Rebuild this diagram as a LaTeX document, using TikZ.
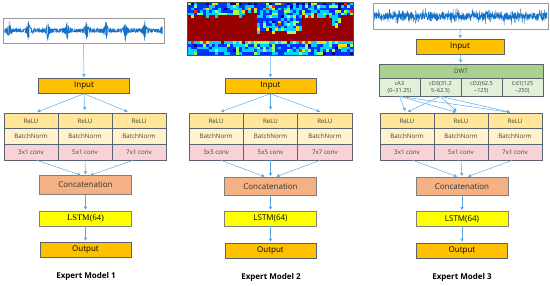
\documentclass[tikz,border=0pt]{standalone}
\usepackage{fontspec}
\setmainfont{Open Sans}
\newfontfamily\timesface{Liberation Serif}
\usetikzlibrary{arrows.meta}

\definecolor{inputorange}{RGB}{255,192,0}
\definecolor{reluyellow}{RGB}{255,230,153}
\definecolor{normcream}{RGB}{255,242,204}
\definecolor{convpink}{RGB}{248,210,214}
\definecolor{concsalmon}{RGB}{244,177,131}
\definecolor{lstmyellow}{RGB}{255,255,0}
\definecolor{dwtgreen}{RGB}{169,209,142}
\definecolor{bandgreen}{RGB}{226,240,217}
\definecolor{edgegray}{RGB}{89,100,115}
\definecolor{arrowblue}{RGB}{91,170,230}
\definecolor{waveblue}{RGB}{20,115,200}
\definecolor{jet0}{RGB}{0,0,150}
\definecolor{jet1}{RGB}{0,50,255}
\definecolor{jet2}{RGB}{0,210,255}
\definecolor{jet3}{RGB}{150,255,100}
\definecolor{jet4}{RGB}{255,220,0}
\definecolor{jet5}{RGB}{240,40,0}
\definecolor{jet6}{RGB}{150,0,0}

\tikzset{
  block/.style={draw=edgegray, line width=0.6pt, inner sep=0pt, minimum height=15pt, font=\fontsize{8}{9}\selectfont},
  iobox/.style={block, fill=inputorange, minimum width=91pt},
  cell/.style={draw=edgegray, line width=0.6pt, inner sep=0pt, minimum width=54pt, minimum height=15.7pt, text=black!75, font=\fontsize{6.2}{7}\selectfont},
  relucell/.style={cell, fill=reluyellow},
  normcell/.style={cell, fill=normcream},
  convcell/.style={cell, fill=convpink},
  concbox/.style={block, draw=gray, fill=concsalmon, minimum width=92pt, minimum height=18.5pt, text=black!80},
  lstmbox/.style={block, draw=gray, fill=lstmyellow, minimum width=92pt},
  dwthead/.style={block, fill=dwtgreen, minimum width=164pt, minimum height=14pt, text=black!75, font=\fontsize{6.2}{7}\selectfont},
  dwtsub/.style={cell, fill=bandgreen, minimum width=41pt, minimum height=18pt, align=center, font=\fontsize{5.6}{7}\selectfont},
  imgframe/.style={draw=gray!80, line width=0.6pt, inner sep=0pt},
  flow/.style={draw=arrowblue, line width=0.5pt, -{Triangle[length=3pt,width=3.2pt]}, shorten >=1pt},
  sigline/.style={draw=waveblue, line width=0.45pt},
  modelname/.style={font=\bfseries\fontsize{8}{9}\selectfont},
}

\begin{document}
\begin{tikzpicture}[x=1pt,y=-1pt]
		\useasboundingbox (0,0) rectangle (550,286);

		% Expert Model 1
		\pgfmathsetseed{7}
		\draw[sigline] plot[domain=4.5:162.5, samples=800] (\x, {30.5 + (1.8 + 9.5*exp(-0.8*abs(mod(\x+0.7,19.4)-9.7)))*(0.45+0.55*rnd)*(2*(rnd>0.5)-1)});
		\node[imgframe, minimum width=161pt, minimum height=25pt] (sig1) at (83.5,30.5){};
		\node[iobox] (in1) at (84,86){Input};

		\node[relucell] (r1a) at (31,120.85){ReLU};
		\node[relucell] (r1b) at (85,120.85){ReLU};
		\node[relucell] (r1c) at (139,120.85){ReLU};
		\node[normcell] (n1a) at (31,136.55){BatchNorm};
		\node[normcell] (n1b) at (85,136.55){BatchNorm};
		\node[normcell] (n1c) at (139,136.55){BatchNorm};
		\node[convcell] (c1a) at (31,152.25){3x1 conv};
		\node[convcell] (c1b) at (85,152.25){5x1 conv};
		\node[convcell] (c1c) at (139,152.25){7x1 conv};

		\node[concbox] (conc1) at (85.5,185){Concatenation};
		\node[lstmbox, font=\timesface\fontsize{8.5}{9}\selectfont] (lstm1) at (85.5,218.5){LSTM(64)};
		\node[iobox] (out1) at (85.5,249.5){Output};
		\node[modelname] (name1) at (86,276){Expert Model 1};

		\draw[flow] (sig1) to (in1);
		\draw[flow, shorten >=2.5pt] (in1.south) to ([xshift=4pt]r1a.north);
		\draw[flow, shorten >=2.5pt] (in1.south) to (r1b.north);
		\draw[flow, shorten >=2.5pt] (in1.south) to ([xshift=-9pt]r1c.north);
		\draw[flow] ([xshift=6pt]c1a.south) to ([xshift=-4pt]conc1.north);
		\draw[flow] (c1b.south) to (conc1.north);
		\draw[flow] ([xshift=-6pt]c1c.south) to ([xshift=4pt]conc1.north);
		\draw[flow] (conc1) to (lstm1);
		\draw[flow] (lstm1) to (out1);


		% Expert Model 2
		\pgfmathsetseed{11}
		\foreach \i in {0,...,54}{
			\foreach \j in {0,...,19}{
				\pgfmathtruncatemacro\lo{5 - 2*(\i>18)*(\i<23) + 6*(\i>22)*(\i<38) + 4*(\i>47)*(\i<51) + (rnd>0.7)}
				\pgfmathsetmacro\s{rnd}
				\pgfmathsetmacro\v{(\j>=\lo)*(\j<15) ? 0.97 : 0.13 + 0.22*rnd + 0.55*\s^6 + 0.15*((\j==\lo-1)+(\j==15)) - 0.07*(\j==0)}
				\pgfmathtruncatemacro\k{max(0,min(6,7*\v))}
				\fill[jet\k] (187.5+\i*3, 2.5+\j*2.6) rectangle ++(3.05,2.65);
			}
		}
		\node[imgframe, draw=black!70, minimum width=166pt, minimum height=53pt] (heat) at (270,28.5){};
		\node[iobox] (in2) at (270.5,86){Input};

		\node[relucell, minimum width=54.3pt] (r2a) at (216.15,120.85){ReLU};
		\node[relucell, minimum width=54.3pt] (r2b) at (270.5,120.85){ReLU};
		\node[relucell, minimum width=54.3pt] (r2c) at (324.85,120.85){ReLU};
		\node[normcell, minimum width=54.3pt] (n2a) at (216.15,136.55){BatchNorm};
		\node[normcell, minimum width=54.3pt] (n2b) at (270.5,136.55){BatchNorm};
		\node[normcell, minimum width=54.3pt] (n2c) at (324.85,136.55){BatchNorm};
		\node[convcell, minimum width=54.3pt] (c2a) at (216.15,152.25){3x3 conv};
		\node[convcell, minimum width=54.3pt] (c2b) at (270.5,152.25){5x5 conv};
		\node[convcell, minimum width=54.3pt] (c2c) at (324.85,152.25){7x7 conv};

		\node[concbox] (conc2) at (270.5,186.5){Concatenation};
		\node[lstmbox] (lstm2) at (270.5,218.5){LSTM(64)};
		\node[iobox] (out2) at (270.5,250.5){Output};
		\node[modelname] (name2) at (271,277){Expert Model 2};

		\draw[flow] (heat) to (in2);
		\draw[flow, shorten >=3pt] (in2.south) to ([xshift=2pt]r2a.north);
		\draw[flow, shorten >=3pt] (in2.south) to (r2b.north);
		\draw[flow, shorten >=3pt] (in2.south) to ([xshift=-2pt]r2c.north);
		\draw[flow] ([xshift=5pt]c2a.south) to ([xshift=-5pt]conc2.north);
		\draw[flow] (c2b.south) to (conc2.north);
		\draw[flow] ([xshift=-5pt]c2c.south) to ([xshift=5pt]conc2.north);
		\draw[flow] (conc2) to (lstm2);
		\draw[flow] (lstm2) to (out2);


		% Expert Model 3
		\pgfmathsetseed{23}
		\draw[sigline] plot[domain=374:547, samples=950] (\x, {16 + (3.5 + 6*rnd^5)*rand});
		\node[imgframe, minimum width=175pt, minimum height=26pt] (sig3) at (460.5,16){};
		\node[iobox, minimum width=88pt] (in3) at (460,47){Input};

		\node[dwthead] (dwt) at (461,71){DWT};
		\node[dwtsub] (ca3) at (399.5,87){cA3\\(0–31.25)};
		\node[dwtsub] (cd3) at (440.5,87){cD3(31.2\\5–62.5)};
		\node[dwtsub] (cd2) at (481.5,87){cD2(62.5\\–125)};
		\node[dwtsub] (cd1) at (522.5,87){Cd1(125\\–250)};

		\node[relucell] (r3a) at (407,120.85){ReLU};
		\node[relucell] (r3b) at (461,120.85){ReLU};
		\node[relucell] (r3c) at (515,120.85){ReLU};
		\node[normcell] (n3a) at (407,136.55){BatchNorm};
		\node[normcell] (n3b) at (461,136.55){BatchNorm};
		\node[normcell] (n3c) at (515,136.55){BatchNorm};
		\node[convcell] (c3a) at (407,152.25){3x1 conv};
		\node[convcell] (c3b) at (461,152.25){5x1 conv};
		\node[convcell] (c3c) at (515,152.25){7x1 conv};

		\node[concbox] (conc3) at (462,186.5){Concatenation};
		\node[lstmbox] (lstm3) at (462,219){LSTM(64)};
		\node[iobox] (out3) at (462,250.5){Output};
		\node[modelname] (name3) at (462,277){Expert Model 3};

		\draw[flow] (sig3) to (in3);
		\draw[flow] (in3) to (dwt);
		\draw[flow, shorten >=2pt] (ca3.south) to ([xshift=-1pt]r3a.north);
		\draw[flow, shorten >=2pt] (ca3.south) to ([xshift=-3pt]r3b.north);
		\draw[flow, shorten >=2pt] (ca3.south) to ([xshift=-3pt]r3c.north);
		\draw[flow, shorten >=2pt] (cd3.south) to ([xshift=-1pt]r3a.north);
		\draw[flow, shorten >=2pt] (cd3.south) to ([xshift=-3pt]r3b.north);
		\draw[flow, shorten >=2pt] (cd3.south) to ([xshift=-3pt]r3c.north);
		\draw[flow] ([xshift=6pt]c3a.south) to ([xshift=-4pt]conc3.north);
		\draw[flow] (c3b.south) to (conc3.north);
		\draw[flow] ([xshift=-3pt]c3c.south) to ([xshift=5pt]conc3.north);
		\draw[flow] (conc3) to (lstm3);
		\draw[flow] (lstm3) to (out3);
	\end{tikzpicture}
\end{document}
